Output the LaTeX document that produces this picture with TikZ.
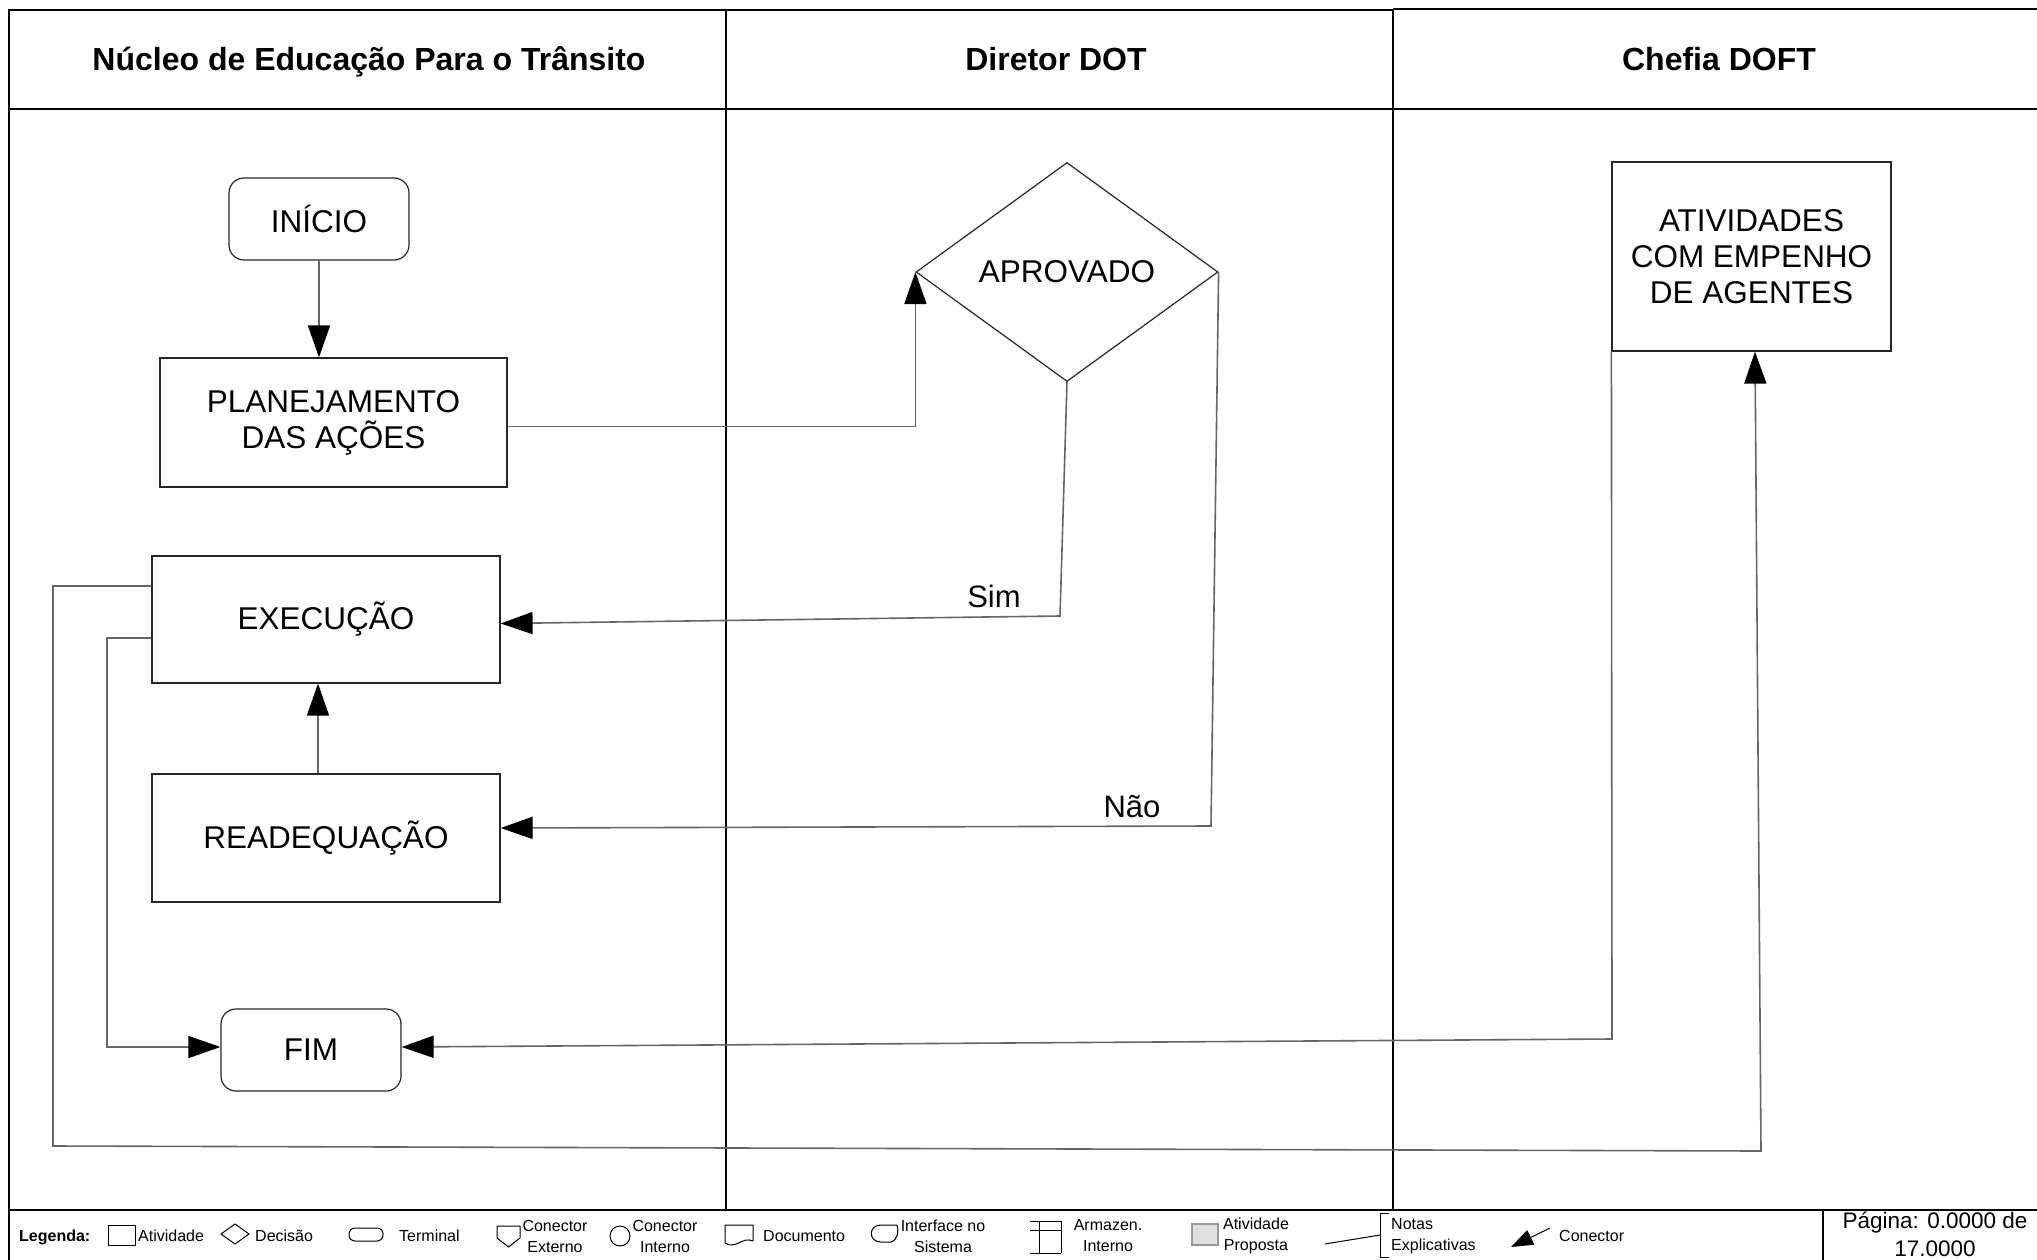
\documentclass[tikz,border=0pt]{standalone}
\usepackage{fontspec}
\setmainfont{Liberation Sans}
\usetikzlibrary{shapes.geometric,arrows.meta,calc}
\begin{document}
\begin{tikzpicture}[x=1pt,y=-1pt,
 frame/.style={line width=2.4pt,black},
 box/.style={draw=black!85,line width=1.2pt,align=center,inner sep=0pt,font=\fontsize{31.5}{36}\selectfont},
 term/.style={box,rounded corners=15pt},
 conn/.style={draw=black!60,line width=1.6pt,-{Triangle[length=32pt,width=22pt,color=black]}},
 hdr/.style={font=\fontsize{32}{36}\selectfont\bfseries,text height=23pt,text depth=7pt},
 lbl/.style={font=\fontsize{31}{36}\selectfont},
 leg/.style={font=\fontsize{16}{21}\selectfont,align=center,inner sep=0pt},
 legsym/.style={draw=black,line width=1pt},
]
\useasboundingbox[fill=white] (0,0) rectangle (2037,1260);

% swimlane frame
\draw[frame] (9,1260) -- (9,10) -- (1393,10);
\draw[frame] (1393,9) -- (2037,9);
\draw[frame] (9,109) -- (2037,109);
\draw[frame] (726,10) -- (726,1210);
\draw[frame] (1393,9) -- (1393,1210);
\draw[frame] (9,1210) -- (2037,1210);

\node[hdr] (h1) at (369,63) {Núcleo de Educação Para o Trânsito};
\node[hdr] (h2) at (1056,63) {Diretor DOT};
\node[hdr] (h3) at (1719,63) {Chefia DOFT};

% nodes
\node[term,minimum width=180pt,minimum height=82pt] (inicio) at (319,219) {INÍCIO};
\node[box,minimum width=347pt,minimum height=129pt] (plan) at (333.5,422.5) {PLANEJAMENTO\\DAS AÇÕES};
\node[box,minimum width=348pt,minimum height=127pt] (exec) at (326,619.5) {EXECUÇÃO};
\node[box,minimum width=348pt,minimum height=128pt] (read) at (326,838) {READEQUAÇÃO};
\node[term,minimum width=180pt,minimum height=82pt] (fim) at (311,1050) {FIM};
\node[box,diamond,aspect=1.38,minimum width=302pt,minimum height=219pt] (aprov) at (1067,272) {APROVADO};
\node[box,minimum width=279pt,minimum height=189pt] (ativ) at (1751.5,256.5) {ATIVIDADES\\COM EMPENHO\\DE AGENTES};

% connectors
\draw[conn] (inicio.south) -- (inicio.south |- plan.north);
\draw[conn] ($(plan.east)+(0,4)$) -| (aprov.west);
\coordinate (simC) at (1060,616);
\draw[conn] (aprov.south) -- (simC) -- ($(exec.east)+(0,4)$);
\coordinate (naoC) at (1211,826);
\draw[conn] (aprov.east) -- (naoC) -- ($(read.east)+(0,-10)$);
\draw[conn] ($(read.north)+(-8,0)$) -- ($(exec.south)+(-8,0)$);
\coordinate (a1) at (107,638);
\coordinate (a2) at (107,1047);
\draw[conn] (exec.west |- a1) -- (a1) -- (a2) -- (fim.west |- a2);
\coordinate (b1) at (53,586);
\coordinate (b2) at (53,1146);
\coordinate (b3) at (1761,1151);
\draw[conn] (exec.west |- b1) -- (b1) -- (b2) -- (b3) -- ($(ativ.south)+(3.5,0)$);
\coordinate (c1) at (1612,1039);
\draw[conn] (ativ.south west) -- (c1) -- ($(fim.east)+(0,-3)$);

\node[lbl] (sim) at (994,596) {Sim};
\node[lbl] (nao) at (1132,807) {Não};

% legend
\node[leg,anchor=west,font=\fontsize{16}{21}\selectfont\bfseries] (legenda) at (19,1237) {Legenda:};
\draw[legsym] (108,1225) rectangle (135,1245);
\node[leg,anchor=west] (lg1) at (138,1236) {Atividade};
\draw[legsym] (221,1234) -- (235,1224) -- (249,1234) -- (235,1244) -- cycle;
\node[leg,anchor=west] (lg2) at (255,1236) {Decisão};
\draw[legsym,rounded corners=6pt] (349,1228) rectangle (383,1241);
\node[leg,anchor=west] (lg3) at (399,1236) {Terminal};
\draw[legsym] (497,1226) -- (520,1226) -- (520,1238) -- (508.5,1247) -- (497,1238) -- cycle;
\node[leg] (lg4) at (555,1236) {Conector\\Externo};
\draw[legsym] (620,1236) circle[radius=10];
\node[leg] (lg5) at (665,1236) {Conector\\Interno};
\draw[legsym] (753,1241) -- (753,1225) -- (725,1225) -- (725,1243) .. controls (736,1250) and (742,1236) .. (753,1241);
\node[leg,anchor=west] (lg6) at (763,1236) {Documento};
\draw[legsym] (897,1225) -- (881,1225) .. controls (868,1225) and (868,1242) .. (881,1242) -- (891,1242) .. controls (898,1240) and (899,1230) .. (897,1225);
\node[leg] (lg7) at (943,1236) {Interface no\\Sistema};
\draw[legsym] (1030,1221) -- (1061,1221);
\draw[legsym] (1030,1230) -- (1061,1230);
\draw[legsym] (1030,1253) -- (1061,1253);
\draw[legsym] (1039,1221) -- (1039,1253);
\draw[legsym] (1061,1221) -- (1061,1253);
\node[leg] (lg8) at (1108,1236) {Armazen.\\Interno};
\draw[draw=black!40,fill=black!12,line width=1.2pt] (1192,1224) rectangle (1218,1245);
\node[leg] (lg9) at (1256,1236) {Atividade\\Proposta};
\draw[legsym] (1325,1244) -- (1380,1235);
\draw[legsym] (1389,1213) -- (1380,1213) -- (1380,1257) -- (1389,1257);
\node[leg,anchor=west,align=left] (lg10) at (1391,1236) {Notas\\Explicativas};
\coordinate (ca) at (1550,1228);
\coordinate (cb) at (1511,1247);
\draw[legsym,-{Triangle[length=22pt,width=16pt]}] (ca) -- (cb);
\node[leg,anchor=west] (lg11) at (1559,1236) {Conector};
\draw[frame] (1823,1210) -- (1823,1260);
\node[leg,font=\fontsize{22.5}{28}\selectfont] (page) at (1935,1234) {Página: 0.0000 de\\17.0000};
\end{tikzpicture}
\end{document}
